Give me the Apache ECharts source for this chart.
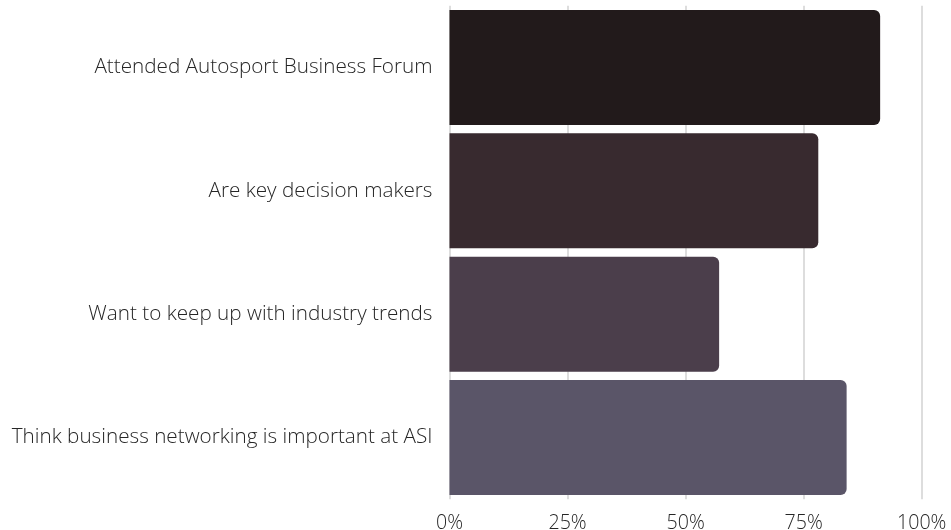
<!DOCTYPE html>
<html>
<head>
<meta charset="utf-8">
<script src="https://cdn.jsdelivr.net/npm/echarts@6/dist/echarts.min.js"></script>
<style>html,body{margin:0;padding:0;background:#fff;}#c{width:951px;height:530px;}</style>
</head>
<body>
<div id="c"></div>
<script>
const categories = [
  "Attended Autosport Business Forum",
  "Are key decision makers",
  "Want to keep up with industry trends",
  "Think business networking is important at ASI"
];
const values = [91.2, 78.1, 57.1, 84.1];
const barColors = ["#221a1b", "#382a2f", "#4b3e4b", "#5a5568"];
const tickLabels = ["0%", "25%", "50%", "75%", "100%"];

const chart = echarts.init(document.getElementById('c'));
chart.setOption({
  animation: false,
  backgroundColor: '#ffffff',
  grid: { left: 449.5, right: 29.3, top: 5.8, bottom: 30.8, containLabel: false, outerBoundsMode: 'none' },
  xAxis: {
    type: 'value', min: 0, max: 100, interval: 25,
    axisLine: { show: false }, axisTick: { show: false },
    splitLine: { show: true, lineStyle: { color: '#d2d2d2', width: 1.5 } },
    axisLabel: {
      margin: 14.5, color: '#262626', fontSize: 19.6, fontFamily: 'Open Sans', fontWeight: 300,
      lineHeight: 20,
      formatter: v => tickLabels[Math.round(v / 25)]
    }
  },
  yAxis: {
    type: 'category', data: categories, inverse: true,
    axisLine: { show: false }, axisTick: { show: false }, splitLine: { show: false },
    axisLabel: { margin: 17, color: '#262626', fontSize: 20.7, fontFamily: 'Open Sans', fontWeight: 300 }
  },
  series: [{
    type: 'bar',
    barCategoryGap: '6.76%',
    data: values.map((v, i) => ({ value: v, itemStyle: { color: barColors[i], borderRadius: [0, 6, 6, 0] } }))
  }]
});
</script>
</body>
</html>
